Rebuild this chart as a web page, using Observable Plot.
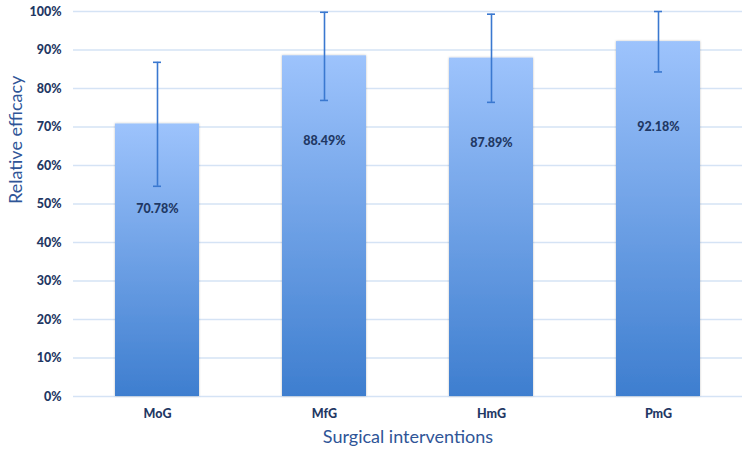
<!DOCTYPE html>
<html>
<head>
<meta charset="utf-8">
<script src="https://cdn.jsdelivr.net/npm/d3@7"></script>
<script src="https://cdn.jsdelivr.net/npm/@observablehq/plot@0.6"></script>
<style>
  body { margin: 0; background: #fff; }
  #chart { width: 750px; height: 455px; }
</style>
</head>
<body>
<div id="chart"></div>
<script>
const categories = ["MoG", "MfG", "HmG", "PmG"];
const efficacy = [70.78, 88.49, 87.89, 92.18];
const errLower = [54.6, 76.9, 76.4, 84.3];
const errUpper = [86.8, 99.8, 99.3, 100];
const yTicks = [0, 10, 20, 30, 40, 50, 60, 70, 80, 90, 100];

const data = categories.map((c, i) => ({
  cat: c, value: efficacy[i], lo: errLower[i], hi: errUpper[i]
}));

const navy = "#1f3864";
const defs = () => {
  const svg = d3.create("svg:g");
  const g = svg.append("defs").append("linearGradient")
    .attr("id", "barGrad").attr("x1", 0).attr("y1", 0).attr("x2", 0).attr("y2", 1);
  g.append("stop").attr("offset", "0%").attr("stop-color", "#9dc3fc");
  g.append("stop").attr("offset", "100%").attr("stop-color", "#3e7ecf");
  const f = svg.select("defs").append("filter").attr("id", "shadow")
    .attr("x", "-10%").attr("y", "-10%").attr("width", "120%").attr("height", "120%");
  f.append("feDropShadow").attr("dx", 0).attr("dy", 0).attr("stdDeviation", 1.2)
    .attr("flood-color", "#000").attr("flood-opacity", 0.25);
  return svg.node();
};

const chart = Plot.plot({
  width: 750,
  height: 455,
  marginTop: 11,
  marginBottom: 59,
  marginLeft: 73,
  marginRight: 8,
  style: { fontFamily: "Lato, 'Open Sans', sans-serif", background: "#fff" },
  x: { domain: categories, paddingInner: 0.5, paddingOuter: 0.25, label: null, axis: null },
  y: { domain: [0, 100], label: null, axis: null },
  marks: [
    defs,
    Plot.ruleY(yTicks, { stroke: "#d5e3f5", strokeWidth: 1.3 }),
    Plot.barY(data, { x: "cat", y: "value", fill: "url(#barGrad)",
      render: (i, s, v, d, c, next) => { const n = next(i, s, v, d, c); n.setAttribute("filter", "url(#shadow)"); return n; } }),
    Plot.ruleX(data, { x: "cat", y1: "lo", y2: "hi", stroke: "#3a78d0", strokeWidth: 1.6 }),
    Plot.tickY(data, { x: "cat", y: "lo", stroke: "#3a78d0", strokeWidth: 1.6, insetLeft: 38, insetRight: 38 }),
    Plot.tickY(data, { x: "cat", y: "hi", stroke: "#3a78d0", strokeWidth: 1.6, insetLeft: 38, insetRight: 38 }),
    Plot.text(data, { x: "cat", y: "value", text: d => d.value.toFixed(2) + "%", dy: 85,
      fill: navy, fontWeight: "900", fontSize: 12.5 }),
    Plot.axisY(yTicks, { tickSize: 0, tickPadding: 12, tickFormat: d => d + "%", fill: navy,
      fontWeight: "900", fontSize: 12.5, label: null }),
    Plot.axisX({ tickSize: 0, tickPadding: 13, fill: navy, fontWeight: "900", fontSize: 12.5, label: null }),
    Plot.text(["Relative efficacy"], { frameAnchor: "left", dx: -57, rotate: -90, fill: "#2f5597",
      fontSize: 18, text: d => d }),
    Plot.text(["Surgical interventions"], { frameAnchor: "bottom", dy: 46, fill: "#2f5597",
      fontSize: 18, text: d => d })
  ]
});
document.getElementById("chart").appendChild(chart);
</script>
</body>
</html>
